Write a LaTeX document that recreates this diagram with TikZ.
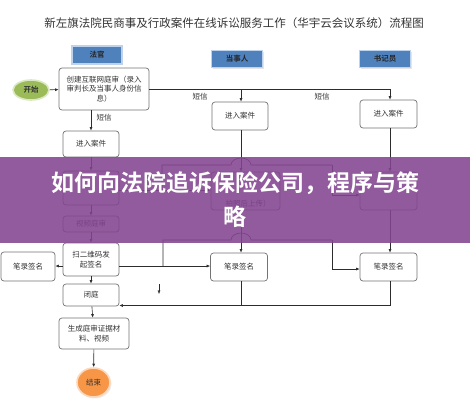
\documentclass[tikz,border=0pt]{standalone}
\usepackage{fontspec}
\setmainfont{Noto Sans CJK SC}[BoldFont={Noto Sans CJK SC Bold}]
\usetikzlibrary{arrows.meta,shapes.geometric,shadows}

\definecolor{headBlue}{RGB}{79,129,189}
\definecolor{headRing}{RGB}{190,210,235}
\definecolor{startGreen}{RGB}{155,187,89}
\definecolor{startRing}{RGB}{220,232,195}
\definecolor{endOrange}{RGB}{247,150,70}
\definecolor{endRing}{RGB}{252,215,185}
\definecolor{boxGray}{RGB}{115,115,115}
\definecolor{lineGray}{RGB}{45,45,45}
\definecolor{bannerPurple}{RGB}{130,68,143}

\newcommand{\smallcn}{\fontsize{7.5}{9.5}\selectfont}

\tikzset{
  flowbox/.style={draw=boxGray, line width=.7pt, rounded corners=3pt, fill=white,
    align=center, inner sep=1pt, font=\smallcn, text=black!80},
  headbox/.style={draw=headRing, line width=1.2pt, fill=headBlue, inner sep=0pt,
    font=\smallcn\bfseries, text=black!85,
    drop shadow={shadow xshift=1.3pt, shadow yshift=-1.3pt, fill=black!20}},
  conn/.style={draw=lineGray, line width=.6pt},
  arr/.style={conn, -{Latex[length=3.5pt,width=3pt]}},
  msg/.style={font=\smallcn, text=black!80, inner sep=0pt}
}

\begin{document}
\begin{tikzpicture}[x=1pt,y=-1pt]
\useasboundingbox (0,0) rectangle (470,400);

% title
\node[font=\fontsize{11.5}{13}\selectfont, text=black!80] (title) at (234,23)
  {新左旗法院民商事及行政案件在线诉讼服务工作（华宇云会议系统）流程图};

% column heads
\node[headbox, minimum width=50pt, minimum height=18pt] (hJudge) at (97,55) {法官};
\node[headbox, minimum width=51pt, minimum height=17pt] (hParty) at (237,59) {当事人};
\node[headbox, minimum width=51pt, minimum height=17pt] (hClerk) at (385,59) {书记员};

% start / end
\node[ellipse, draw=startRing, line width=1.6pt, fill=startGreen, inner sep=0pt,
  minimum width=36pt, minimum height=20pt, font=\smallcn\bfseries, text=black!80] (start) at (31,90) {开始};
\node[ellipse, draw=endRing, line width=1.6pt, fill=endOrange, inner sep=0pt,
  minimum width=33pt, minimum height=29pt, font=\smallcn, text=black!80,
  drop shadow={shadow xshift=1.5pt, shadow yshift=-1.5pt, fill=black!15}] (end) at (93.5,382.5) {结束};

% judge column
\node[flowbox, minimum width=90pt, minimum height=42pt] (create) at (104,89)
  {创建互联网庭审（录入\\审判长及当事人身份信\\息）};
\node[flowbox, minimum width=56pt, minimum height=26pt] (judgeIn) at (91,144) {进入案件};
\node[flowbox, minimum width=56pt, minimum height=34pt] (judgeMid) at (91,188) {};
\node[flowbox, minimum width=56pt, minimum height=16pt] (video) at (91,224) {视频庭审};
\node[flowbox, minimum width=56pt, minimum height=33pt] (scan) at (91,259.5) {扫二维码发\\起签名};
\node[flowbox, minimum width=54pt, minimum height=29pt] (signL) at (28,266.5) {笔录签名};
\node[flowbox, minimum width=56pt, minimum height=22pt] (close) at (91,295) {闭庭};
\node[flowbox, minimum width=70pt, minimum height=31pt] (gen) at (94,333.5) {生成庭审证据材\\料、视频};

% party column
\node[flowbox, minimum width=56pt, minimum height=28pt] (partyIn) at (240,116) {进入案件};
\node[flowbox, minimum width=69pt, minimum height=38pt] (partyMid) at (245.5,191) {};
\node[msg] (partyNote) at (248,203.5) {拍照后上传）};
\node[flowbox, minimum width=57pt, minimum height=28pt] (signP) at (239,267) {笔录签名};

% clerk column
\node[flowbox, minimum width=57pt, minimum height=28pt] (clerkIn) at (388.5,114) {进入案件};
\node[flowbox, minimum width=57pt, minimum height=38pt] (clerkMid) at (388.5,191) {};
\node[flowbox, minimum width=57pt, minimum height=28pt] (signC) at (388.5,267) {笔录签名};

% helper coordinates
\coordinate (xP) at (241,0);
\coordinate (xC) at (390,0);
\coordinate (uL) at (162,190);
\coordinate (uR) at (332,165);
\coordinate (lL) at (163,266);
\coordinate (lR) at (332,240);
\coordinate (back) at (0,305.5);

% connectors
\draw[arr] (start) -- (create);
\draw[conn] (create.east) -- (create.east -| xC);
\draw[arr] (create.east -| xC) -- (clerkIn.north -| xC);
\draw[arr] (create.east -| xP) -- (partyIn.north -| xP);
\node[msg] (sms1) at (200,97) {短信};
\node[msg] (sms2) at (322,97) {短信};
\draw[arr] (create.south -| judgeIn) -- (judgeIn.north);
\node[msg] (sms3) at (104,118) {短信};

\draw[arr] (judgeIn) -- (judgeMid);
\draw[arr] (judgeMid) -- (video);
\draw[arr] (video) -- (scan);
\draw[arr] (scan) -- (close);
\draw[arr] (close) -- (gen);
\draw[arr] (gen) -- (end);

\draw[arr] (partyIn.south -| xP) -- (partyMid.north -| xP);
\draw[arr] (partyMid.south -| xP) -- (signP.north -| xP);
\draw[arr] (clerkIn.south -| xC) -- (clerkMid.north -| xC);
\draw[arr] (clerkMid.south -| xC) -- (signC.north -| xC);

% upper crossing
\draw[arr] (judgeMid.east |- uL) -- (partyMid.west |- uL);
\draw[conn] (uL) -- (uL |- uR) -- (231,165)
  arc[start angle=180, end angle=360, x radius=10, y radius=7] -- (uR);
\draw[arr] (uR) -- (332,195) -- (clerkMid.west |- 0,195);

% lower crossing
\draw[arr] (scan.west |- lL) -- (signL.east |- lL);
\draw[arr] (scan.east |- lL) -- (signP.west |- lL);
\draw[conn] (lL) -- (lL |- lR) -- (231,240)
  arc[start angle=180, end angle=360, x radius=10, y radius=7] -- (lR);
\draw[arr] (lR) -- (332,269) -- (signC.west |- 0,269);

% back to close
\draw[conn] (signP.south -| xP) -- (back -| xP);
\draw[arr] (signC.south -| xC) -- (back -| xC) -- (close.east |- back);
\coordinate (stray) at (159,284);
\draw[arr, line width=.4pt] (stray) -- ++(0,10);

% banner
\fill[bannerPurple, opacity=.88] (0,157) rectangle (470,243);
\node[font=\fontsize{23}{34}\selectfont\bfseries, text=white, align=center] (banner) at (235,200)
  {如何向法院追诉保险公司，程序与策\\略};
\end{tikzpicture}
\end{document}
